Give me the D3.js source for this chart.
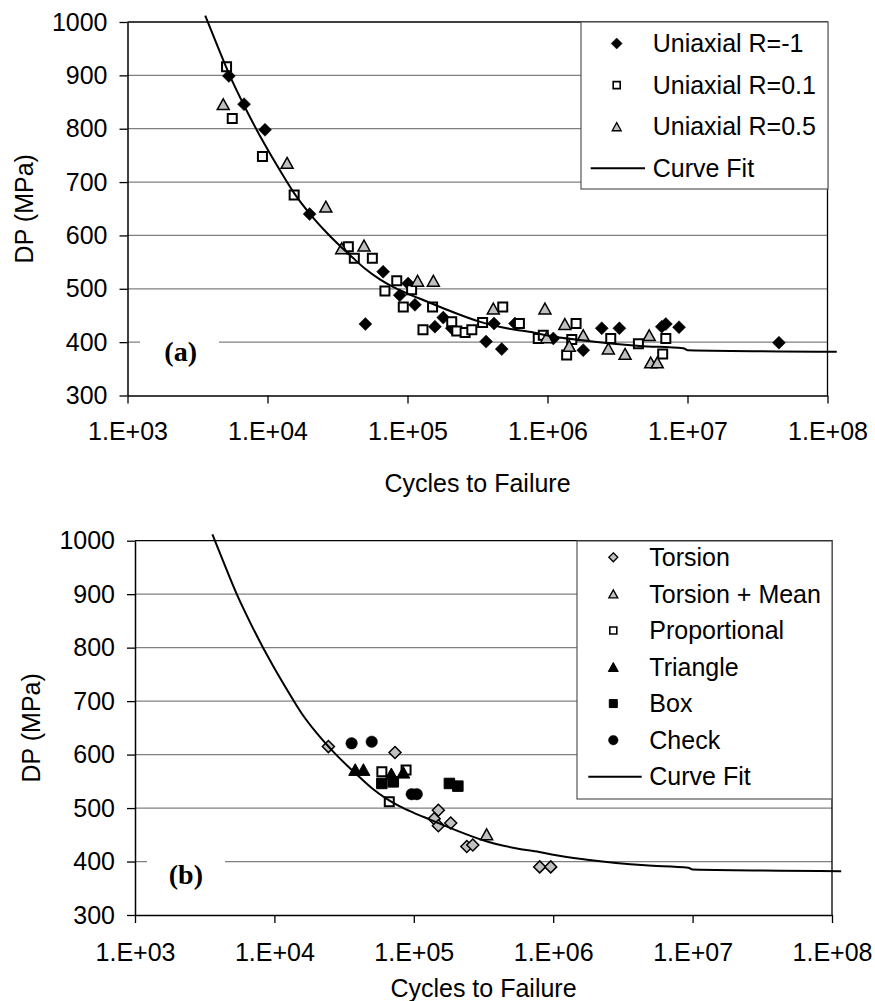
<!DOCTYPE html>
<html>
<head>
<meta charset="utf-8">
<script src="https://cdn.jsdelivr.net/npm/d3@7"></script>
<style>
  body { margin: 0; background: #fff; }
  svg { display: block; }
</style>
</head>
<body>
<svg id="chart" width="875" height="1001"></svg>
<script>
// axis values
var dpTicks = [300, 400, 500, 600, 700, 800, 900, 1000];
var cycleTicks = [1e3, 1e4, 1e5, 1e6, 1e7, 1e8];
var cycleLabels = ["1.E+03", "1.E+04", "1.E+05", "1.E+06", "1.E+07", "1.E+08"];

// panel (a): [cycles, DP MPa]
var uniaxialRm1 = [[5.3e3, 899], [6.8e3, 846], [9.6e3, 798], [2.0e4, 640], [3.7e4, 576], [5.0e4, 434],
  [6.7e4, 532], [8.8e4, 488], [1.01e5, 510], [1.13e5, 470], [1.57e5, 429], [1.8e5, 446], [2.07e5, 426],
  [3.64e5, 401], [4.15e5, 435], [4.71e5, 387], [5.86e5, 435], [1.1e6, 407], [1.8e6, 385], [2.44e6, 426],
  [3.26e6, 426], [6.55e6, 429], [7.0e6, 434], [8.7e6, 428], [4.5e7, 399]];
var uniaxialR01 = [[5.1e3, 916], [5.6e3, 819], [9.2e3, 748], [1.55e4, 676], [3.78e4, 579], [4.17e4, 557],
  [5.61e4, 557], [6.9e4, 496], [8.38e4, 515], [9.33e4, 466], [1.07e5, 498], [1.29e5, 423], [1.51e5, 466],
  [2.07e5, 438], [2.25e5, 421], [2.58e5, 418], [2.88e5, 423], [3.44e5, 437], [4.79e5, 466], [6.3e5, 435],
  [8.59e5, 407], [9.33e5, 413], [1.37e6, 376], [1.49e6, 405], [1.6e6, 435], [2.83e6, 407], [4.46e6, 397],
  [6.65e6, 378], [7.0e6, 407]];
var uniaxialR05 = [[4.83e3, 846], [1.38e4, 736], [2.61e4, 654], [3.39e4, 576], [4.89e4, 581], [1.18e5, 515],
  [1.53e5, 515], [4.1e5, 463], [9.59e5, 463], [9.86e5, 409], [1.33e6, 434], [1.43e6, 393], [1.8e6, 413],
  [2.72e6, 388], [3.58e6, 378], [5.33e6, 413], [5.46e6, 362], [6.08e6, 362]];

// panel (b)
var torsion = [[2.44e4, 615], [7.33e4, 604], [1.5e5, 496], [1.4e5, 480], [1.5e5, 467], [1.84e5, 472],
  [2.4e5, 428], [2.65e5, 431], [8.0e5, 390], [9.6e5, 390]];
var torsionMean = [[3.33e5, 451]];
var proportional = [[5.9e4, 568], [8.8e4, 571], [6.67e4, 512]];
var triangle = [[3.8e4, 572], [4.35e4, 572], [6.9e4, 564], [8.4e4, 567]];
var box = [[5.9e4, 546], [7.13e4, 549], [1.8e5, 546], [2.07e5, 541]];
var check = [[3.58e4, 621], [4.99e4, 624], [9.66e4, 526], [1.05e5, 526]];

// curve fit, same in both panels
var curveFit = [[3.59e3, 1012], [4.47e3, 950], [5.37e3, 900], [6.76e3, 845], [9.77e3, 766], [1.26e4, 717],
  [1.58e4, 676], [2.0e4, 641], [2.63e4, 606], [4.07e4, 558], [5.01e4, 537], [6.31e4, 518], [7.94e4, 503],
  [1.0e5, 491], [1.32e5, 478], [1.78e5, 464], [3.31e5, 438], [4.17e5, 431], [5.62e5, 424], [7.94e5, 418],
  [9.77e5, 413], [1.82e6, 403], [4.57e6, 393], [9.33e6, 388.5], [1.0e7, 385], [1.164e8, 382]];

var FONT = "'Liberation Sans', Arial, sans-serif";
var svg = d3.select("#chart");

function markerPath(shape, s) {
  var r = s / 2;
  if (shape === "diamond") return "M0," + (-r) + "L" + r + ",0L0," + r + "L" + (-r) + ",0Z";
  if (shape === "square") return "M" + (-r) + "," + (-r) + "h" + s + "v" + s + "h" + (-s) + "Z";
  if (shape === "triangle") {
    var h = s * 0.9;
    return "M0," + (-h / 2) + "L" + r + "," + (h / 2) + "L" + (-r) + "," + (h / 2) + "Z";
  }
  return "M" + r + ",0A" + r + "," + r + " 0 1,1 " + (-r) + ",0A" + r + "," + r + " 0 1,1 " + r + ",0Z";
}

function drawPanel(p) {
  var x = d3.scaleLog().domain([1e3, 1e8]).range([p.left, p.right]);
  var y = d3.scaleLinear().domain([300, 1000]).range([p.bottom, p.top]);
  var g = svg.append("g");

  // gridlines
  g.append("g").selectAll("line")
    .data(dpTicks.filter(function(d) { return d > 300 && d < 1000; }))
    .join("line")
    .attr("x1", p.left).attr("x2", p.right)
    .attr("y1", y).attr("y2", y)
    .attr("stroke", "#808080").attr("stroke-width", 1.3);

  // plot area border (top, right)
  g.append("path")
    .attr("d", "M" + p.left + "," + p.top + "H" + p.right + "V" + p.bottom)
    .attr("fill", "none").attr("stroke", "#000").attr("stroke-width", 1.3);

  // panel tag with white box
  g.append("rect").attr("x", p.tagBox[0]).attr("y", p.tagBox[1])
    .attr("width", p.tagBox[2]).attr("height", p.tagBox[3]).attr("fill", "#fff");
  g.append("text").attr("x", p.tagX).attr("y", p.tagY).attr("dy", "0.35em")
    .attr("text-anchor", "end")
    .attr("font-family", "'Liberation Serif', 'Times New Roman', serif")
    .attr("font-weight", "bold").attr("font-size", 28)
    .text(p.tag);

  var ya = g.append("g").attr("transform", "translate(" + p.left + ",0)")
    .call(d3.axisLeft(y).tickValues(dpTicks).tickSize(8).tickSizeOuter(0).tickPadding(12)
      .tickFormat(d3.format("d")));
  var xa = g.append("g").attr("transform", "translate(0," + p.bottom + ")")
    .call(d3.axisBottom(x).tickValues(cycleTicks).tickSize(8).tickSizeOuter(0).tickPadding(p.xPad)
      .tickFormat(function(d, i) { return cycleLabels[i]; }));
  [ya, xa].forEach(function(a) {
    a.select(".domain").attr("stroke", "#000").attr("stroke-width", 1.5);
    a.selectAll(".tick line").attr("stroke", "#000").attr("stroke-width", 1.3);
    a.selectAll("text").attr("font-family", FONT).attr("font-size", 25).attr("fill", "#000");
  });

  // axis titles
  g.append("text").attr("x", (p.left + p.right) / 2).attr("y", p.xTitleY)
    .attr("text-anchor", "middle").attr("font-family", FONT).attr("font-size", 25)
    .text("Cycles to Failure");
  g.append("text")
    .attr("transform", "translate(" + p.yTitleX + "," + (p.top + p.bottom) / 2 + ") rotate(-90)")
    .attr("dy", "0.35em").attr("text-anchor", "middle")
    .attr("font-family", FONT).attr("font-size", 25)
    .text("DP (MPa)");

  // markers
  p.series.forEach(function(s) {
    g.append("g").selectAll("path").data(s.data).join("path")
      .attr("transform", function(d) { return "translate(" + x(d[0]) + "," + y(d[1]) + ")"; })
      .attr("d", markerPath(s.shape, s.size))
      .attr("fill", s.fill)
      .attr("stroke", s.stroke)
      .attr("stroke-width", s.strokeWidth);
  });

  // curve fit
  var line = d3.line()
    .x(function(d) { return x(d[0]); })
    .y(function(d) { return y(d[1]); })
    .curve(d3.curveMonotoneX);
  g.append("path").datum(curveFit)
    .attr("d", line)
    .attr("fill", "none").attr("stroke", "#000").attr("stroke-width", 2);

  // legend
  var L = p.legend;
  var lg = g.append("g");
  lg.append("rect").attr("x", L.x).attr("y", L.y).attr("width", L.w).attr("height", L.h)
    .attr("fill", "#fff").attr("stroke", "#555").attr("stroke-width", 1.2);
  var rows = p.series.concat([{ name: "Curve Fit", shape: "line" }]);
  rows.forEach(function(s, i) {
    var cy = L.row0 + i * L.step;
    if (s.shape === "line") {
      lg.append("line").attr("x1", L.lineX[0]).attr("x2", L.lineX[1])
        .attr("y1", cy).attr("y2", cy).attr("stroke", "#000").attr("stroke-width", 2);
    } else {
      lg.append("path").attr("transform", "translate(" + L.markX + "," + cy + ")")
        .attr("d", markerPath(s.shape, s.legendSize))
        .attr("fill", s.fill).attr("stroke", s.stroke).attr("stroke-width", s.legendStroke);
    }
    lg.append("text").attr("x", L.textX).attr("y", cy).attr("dy", "0.35em")
      .attr("font-family", FONT).attr("font-size", 25).text(s.name);
  });
}

drawPanel({
  left: 127.5, right: 827.5, top: 22, bottom: 395.5,
  xPad: 19, xTitleY: 492, yTitleX: 24,
  tag: "(a)", tagX: 197, tagY: 351, tagBox: [140, 334, 79, 32],
  series: [
    { name: "Uniaxial R=-1", data: uniaxialRm1, shape: "diamond", size: 13, fill: "#000", stroke: "#000", strokeWidth: 0.5, legendSize: 11, legendStroke: 0.5 },
    { name: "Uniaxial R=0.1", data: uniaxialR01, shape: "square", size: 9, fill: "#fff", stroke: "#000", strokeWidth: 2, legendSize: 7, legendStroke: 1.6 },
    { name: "Uniaxial R=0.5", data: uniaxialR05, shape: "triangle", size: 12, fill: "#c0c0c0", stroke: "#000", strokeWidth: 1.5, legendSize: 9, legendStroke: 1.3 }
  ],
  legend: { x: 581, y: 22, w: 247, h: 167, row0: 43.5, step: 41.6, markX: 616.7, textX: 652.7, lineX: [590.7, 645] }
});

drawPanel({
  left: 135, right: 832, top: 540.7, bottom: 915,
  xPad: 20, xTitleY: 997, yTitleX: 31,
  tag: "(b)", tagX: 203, tagY: 874, tagBox: [147, 857, 78, 32],
  series: [
    { name: "Torsion", data: torsion, shape: "diamond", size: 12, fill: "#c0c0c0", stroke: "#000", strokeWidth: 1.5, legendSize: 9, legendStroke: 1.3 },
    { name: "Torsion + Mean", data: torsionMean, shape: "triangle", size: 12, fill: "#c0c0c0", stroke: "#000", strokeWidth: 1.5, legendSize: 9, legendStroke: 1.3 },
    { name: "Proportional", data: proportional, shape: "square", size: 9, fill: "#fff", stroke: "#000", strokeWidth: 2, legendSize: 7, legendStroke: 1.6 },
    { name: "Triangle", data: triangle, shape: "triangle", size: 13, fill: "#000", stroke: "#000", strokeWidth: 1, legendSize: 10, legendStroke: 1 },
    { name: "Box", data: box, shape: "square", size: 10.5, fill: "#000", stroke: "#000", strokeWidth: 1, legendSize: 8, legendStroke: 1 },
    { name: "Check", data: check, shape: "circle", size: 11.5, fill: "#000", stroke: "#000", strokeWidth: 0.5, legendSize: 9.5, legendStroke: 0.5 }
  ],
  legend: { x: 577, y: 541, w: 255, h: 258, row0: 557.3, step: 36.57, markX: 613.3, textX: 649.3, lineX: [588.3, 641.7] }
});
</script>
</body>
</html>
